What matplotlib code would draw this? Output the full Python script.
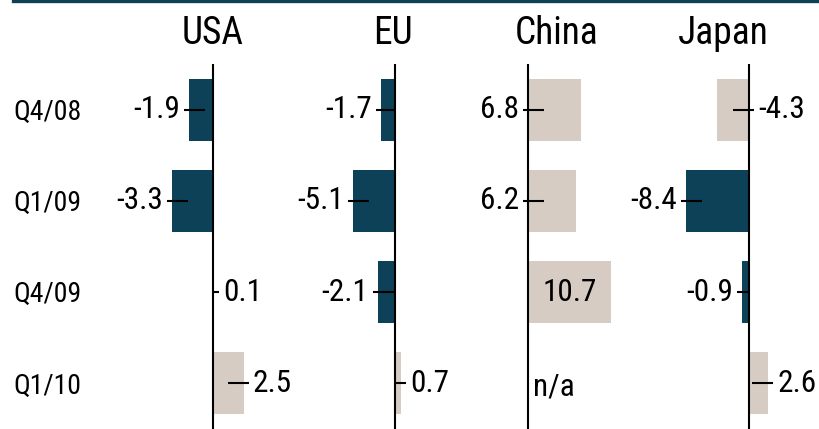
import matplotlib
matplotlib.use('Agg')
import matplotlib.pyplot as plt
from matplotlib.lines import Line2D
from matplotlib import transforms

plt.rcParams['font.family'] = ['Roboto Condensed', 'DejaVu Sans']

quarters = ["Q4/08", "Q1/09", "Q4/09", "Q1/10"]
regions = ["USA", "EU", "China", "Japan"]

usa = [-1.9, -3.3, 0.1, 2.5]
eu = [-1.7, -5.1, -2.1, 0.7]
china = [6.8, 6.2, 10.7, None]
japan = [-4.3, -8.4, -0.9, 2.6]
series = [usa, eu, china, japan]

DARK = '#0c4157'
LIGHT = '#d6ccc3'

W, H = 820, 429
fig = plt.figure(figsize=(W / 100, H / 100), dpi=100)

# panel geometry in pixels: left edge, right edge, zero line, px per unit
panels = [(105, 300, 213, 12.4), (300, 465, 395, 8.3),
          (465, 650, 528, 7.8), (650, 820, 749, 7.5)]
title_x = [213, 393, 557, 723]
plot_top = 64
VAL_SIZE = 22.5

axes = []
for name, vals, (l, r, z, ppu), tx in zip(regions, series, panels, title_x):
    ax = fig.add_axes([l / W, 0, (r - l) / W, (H - plot_top) / H])
    ax.set_xlim((l - z) / ppu, (r - z) / ppu)
    ax.set_ylim(3.5, -0.5)
    ax.axis('off')
    ax.axvline(0, color='black', lw=1.5, zorder=3)
    fig.text(tx / W, 1 - 33 / H, name, ha='center', va='center', fontsize=27)

    for i, v in enumerate(vals):
        if v is None:
            ax.text(5 / ppu, i + 0.04, "n/a", ha='left', va='center', fontsize=VAL_SIZE)
            continue
        color = DARK if v < 0 else LIGHT
        if name == "Japan" and i == 0:
            color = LIGHT
        ax.barh(i, v, height=0.68, color=color, zorder=2)

        if name == "China" and v > 10:
            ax.text(v / 2, i, f"{v:.1f}", ha='center', va='center', fontsize=VAL_SIZE)
            continue

        # which side of the bar the value label sits on
        side = -1 if v < 0 else 1
        if name == "China":
            side = -1
        if name == "Japan" and i == 0:
            side = 1

        anchor = v if (v < 0) == (side < 0) else 0
        outer = anchor + side * 5 / ppu
        inner = anchor - side * 16 / ppu
        if anchor != 0:
            inner = max(inner, 0) if side > 0 else min(inner, 0)
        ax.plot([outer, inner], [i, i], color='black', lw=1.5, zorder=4,
                solid_capstyle='butt')
        ax.text(outer + side * 4 / ppu, i, f"{v:.1f}",
                ha='left' if side > 0 else 'right', va='center', fontsize=VAL_SIZE)
    axes.append(ax)

# quarter labels down the left side
trans = transforms.blended_transform_factory(fig.transFigure, axes[0].transData)
for i, q in enumerate(quarters):
    fig.text(13 / W, i + 0.03, q, transform=trans, ha='left', va='center', fontsize=20)

fig.add_artist(Line2D([13 / W, 1], [1 - 1 / H, 1 - 1 / H], color='#0d4256', lw=2.4))

fig.savefig('out.png', dpi=100)
